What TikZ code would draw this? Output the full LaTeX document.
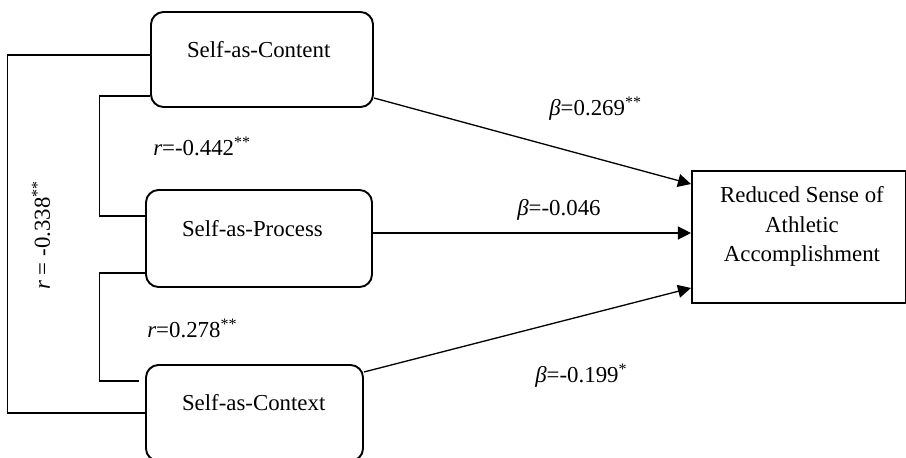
\documentclass[tikz,border=0pt]{standalone}
\usepackage{fontspec}
\setmainfont{Liberation Serif}
\usetikzlibrary{arrows.meta}

\begin{document}
\begin{tikzpicture}[
  font=\fontsize{13}{16.8}\selectfont,
  factor/.style={draw, line width=1.1pt, rounded corners=0.25cm, align=left, inner xsep=0.72cm, inner ysep=0pt, minimum height=1.92cm, text height=0.3cm, text depth=0.4cm},
  outcome/.style={draw, line width=1.2pt, minimum width=4.28cm, minimum height=2.64cm, inner sep=0pt},
  lbl/.style={anchor=base west, inner sep=0pt},
  fl/.style={-{Triangle[length=2.6mm,width=2.6mm]}, line width=0.75pt},
  cor/.style={line width=0.6pt},
]
\useasboundingbox (0,0) rectangle (18.12,9.14);
\node[factor, text width=3.00cm, minimum height=1.90cm] (con) at (5.24,7.95) {Self-as-Content};
\node[factor, text width=3.08cm, minimum height=1.94cm] (pro) at (5.18,4.37) {Self-as-Process};
\node[factor, text width=2.90cm] (ctx) at (5.09,0.88) {Self-as-Context};
\node[outcome] (rsa) at (15.98,4.40) {};
\node[align=center, inner sep=0pt] (rsatxt) at (16.04,4.61) {Reduced Sense of\\Athletic\\Accomplishment};
\draw[fl] ([yshift=-0.77cm]con.east) -- ([yshift=1.06cm]rsa.west);
\draw[fl] ([yshift=0.11cm]pro.east)  -- ([yshift=0.08cm]rsa.west);
\draw[fl] ([yshift=0.82cm]ctx.east)  -- ([yshift=-1.02cm]rsa.west);
\draw[cor] ([yshift=0.09cm]con.west)  -- ++(-2.86,0) |- (ctx.west);
\draw[cor] ([yshift=-0.73cm]con.west) -- ++(-1.02,0) |- ([yshift=0.45cm]pro.west);
\draw[cor] ([yshift=-0.69cm]pro.west) -- ++(-0.92,0) |- ([xshift=-0.12cm,yshift=0.64cm]ctx.west);
\node[lbl] (bcon) at (10.98,6.84) {{\itshape β}=0.269\textsuperscript{**}};
\node[lbl] (bpro) at (10.34,4.84) {{\itshape β}=-0.046};
\node[lbl] (bctx) at (10.70,1.50) {{\itshape β}=-0.199\textsuperscript{*}};
\node[lbl] (rcp)  at (3.06,6.04) {{\itshape r}=-0.442\textsuperscript{**}};
\node[lbl] (rpx)  at (2.94,2.40) {{\itshape r}=0.278\textsuperscript{**}};
\node[lbl, rotate=90] (rcx) at (1.00,3.34) {{\itshape r} = -0.338\textsuperscript{**}};
\end{tikzpicture}
\end{document}
